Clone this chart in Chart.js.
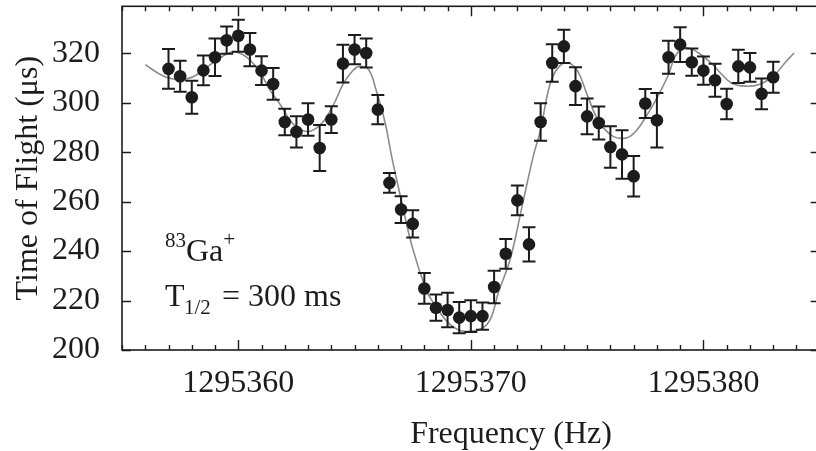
<!DOCTYPE html>
<html>
<head>
<meta charset="utf-8">
<script src="https://cdn.jsdelivr.net/npm/chart.js@4.4.1/dist/chart.umd.min.js"></script>
<style>
  html, body { margin: 0; padding: 0; background: #fff; }
  body { width: 816px; height: 451px; overflow: hidden; position: relative; }
  #tof { position: absolute; left: 0; top: 0; }
</style>
</head>
<body>
<canvas id="tof" width="826" height="451"></canvas>
<script>
// measured points (Hz, µs)
var freq = [1295357.0, 1295357.5, 1295358.0, 1295358.5, 1295359.0, 1295359.5, 1295360.0, 1295360.5,
            1295361.0, 1295361.5, 1295362.0, 1295362.5, 1295363.0, 1295363.5, 1295364.0, 1295364.5,
            1295365.0, 1295365.5, 1295366.0, 1295366.5, 1295367.0, 1295367.5, 1295368.0, 1295368.5,
            1295369.0, 1295369.5, 1295370.0, 1295370.5, 1295371.0, 1295371.5, 1295372.0, 1295372.5,
            1295373.0, 1295373.5, 1295374.0, 1295374.5, 1295375.0, 1295375.5, 1295376.0, 1295376.5,
            1295377.0, 1295377.5, 1295378.0, 1295378.5, 1295379.0, 1295379.5, 1295380.0, 1295380.5,
            1295381.0, 1295381.5, 1295382.0, 1295382.5, 1295383.0];
var tof = [313.7, 310.7, 302.2, 313.1, 318.4, 325.3, 327.1, 321.5,
           313.0, 307.6, 292.2, 288.2, 293.2, 281.7, 293.2, 315.8,
           321.5, 320.1, 297.2, 267.6, 256.8, 251.0, 224.9, 217.1,
           216.2, 213.1, 213.7, 213.7, 225.5, 238.9, 260.5, 242.7,
           292.2, 316.1, 322.8, 306.7, 294.5, 291.8, 282.1, 279.1,
           270.3, 299.7, 292.9, 318.4, 323.5, 316.4, 313.0, 309.1,
           299.5, 314.7, 314.3, 303.6, 310.3];
var tofErr = [8.0, 6.3, 6.7, 6.0, 7.6, 5.5, 6.5, 6.7,
              5.8, 6.4, 5.4, 6.3, 6.6, 9.3, 5.4, 7.6,
              5.9, 5.9, 5.9, 4.0, 5.4, 5.5, 6.2, 5.3,
              7.0, 6.3, 6.4, 5.5, 6.6, 6.0, 6.0, 6.9,
              7.6, 7.6, 6.7, 7.6, 7.2, 6.7, 8.4, 9.8,
              8.2, 5.9, 11.0, 6.7, 7.0, 5.5, 5.7, 6.7,
              6.2, 6.7, 5.8, 6.2, 6.3];

// fitted line
var fitFreq = [1295356.0, 1295356.8, 1295357.5, 1295358.1, 1295358.9, 1295359.5, 1295359.9, 1295360.4,
               1295360.9, 1295361.4, 1295361.8, 1295362.3, 1295362.7, 1295363.1, 1295363.6, 1295364.1,
               1295364.5, 1295364.9, 1295365.2, 1295365.6, 1295365.9, 1295366.3, 1295366.6, 1295367.0,
               1295367.5, 1295368.1, 1295368.4, 1295369.1, 1295369.8, 1295370.7, 1295371.2, 1295371.7,
               1295372.2, 1295372.7, 1295373.0, 1295373.4, 1295373.8, 1295374.2, 1295374.6, 1295375.0,
               1295375.5, 1295376.1, 1295376.7, 1295377.1, 1295377.5, 1295378.0, 1295378.5, 1295378.8,
               1295379.2, 1295379.8, 1295380.4, 1295380.8, 1295381.2, 1295381.8, 1295382.4, 1295383.0,
               1295383.5, 1295383.9];
var fitTof = [315.4, 310.7, 309.4, 310.7, 316.1, 319.7, 320.5, 318.1,
              312.7, 304.6, 299.3, 292.0, 289.0, 288.5, 291.8, 299.3,
              307.4, 312.7, 314.7, 313.4, 306.0, 292.5, 278.0, 261.0,
              241.0, 223.8, 219.0, 210.4, 207.5, 210.4, 223.8, 237.0,
              258.0, 279.0, 289.0, 307.4, 314.7, 316.1, 312.7, 303.3,
              292.5, 286.5, 285.8, 288.5, 293.9, 301.9, 311.4, 319.0,
              322.2, 320.1, 315.4, 311.4, 308.0, 306.7, 307.4, 310.7,
              316.1, 320.1];

var yTicks = [200, 220, 240, 260, 280, 300, 320];
var xMajor = [1295360, 1295370, 1295380];

var SERIF = '"Liberation Serif", "Times New Roman", serif';
var INK = '#1c1c1c';

function pairs(xs, ys) {
    return xs.map(function (x, i) { return { x: x, y: ys[i] }; });
}

// error bars on top of the markers
var errorBars = {
    id: 'errorBars',
    afterDatasetsDraw: function (chart) {
        var ctx = chart.ctx;
        var xs = chart.scales.x, ys = chart.scales.y;
        ctx.save();
        ctx.strokeStyle = INK;
        ctx.lineWidth = 2;
        for (var i = 0; i < freq.length; i++) {
            var px = xs.getPixelForValue(freq[i]);
            var top = ys.getPixelForValue(tof[i] + tofErr[i]);
            var bot = ys.getPixelForValue(tof[i] - tofErr[i]);
            ctx.beginPath();
            ctx.moveTo(px, top); ctx.lineTo(px, bot);
            ctx.moveTo(px - 6.5, top); ctx.lineTo(px + 6.5, top);
            ctx.moveTo(px - 6.5, bot); ctx.lineTo(px + 6.5, bot);
            ctx.stroke();
        }
        ctx.restore();
    }
};

// box frame with inward ticks (gnuplot style)
var frame = {
    id: 'frame',
    afterDraw: function (chart) {
        var ctx = chart.ctx, a = chart.chartArea;
        var xs = chart.scales.x, ys = chart.scales.y;
        ctx.save();
        ctx.strokeStyle = INK;
        ctx.lineWidth = 1.6;
        ctx.strokeRect(a.left, a.top, a.right - a.left, a.bottom - a.top);
        ctx.lineWidth = 1.4;
        ctx.beginPath();
        for (var f = xs.min; f <= xs.max; f++) {
            var px = Math.round(xs.getPixelForValue(f)) + 0.5;
            var len = xMajor.indexOf(f) >= 0 ? 10 : 5;
            ctx.moveTo(px, a.bottom); ctx.lineTo(px, a.bottom - len);
            ctx.moveTo(px, a.top); ctx.lineTo(px, a.top + len);
        }
        yTicks.forEach(function (v) {
            var py = Math.round(ys.getPixelForValue(v)) + 0.5;
            ctx.moveTo(a.left, py); ctx.lineTo(a.left + 9, py);
            ctx.moveTo(a.right, py); ctx.lineTo(a.right - 9, py);
        });
        ctx.stroke();

        ctx.fillStyle = INK;
        // x axis title, sits a little right of centre in the original
        ctx.font = '32px ' + SERIF;
        ctx.textAlign = 'center';
        ctx.textBaseline = 'middle';
        ctx.fillText('Frequency (Hz)', 511, 435);

        // labels inside the plot
        ctx.textBaseline = 'alphabetic';
        ctx.textAlign = 'left';
        ctx.font = '21px ' + SERIF;
        ctx.fillText('83', 165, 247);
        ctx.font = '32px ' + SERIF;
        ctx.fillText('Ga', 186, 261);
        var gaW = ctx.measureText('Ga').width;
        ctx.font = '21px ' + SERIF;
        ctx.fillText('+', 186 + gaW, 246);

        ctx.font = '32px ' + SERIF;
        ctx.fillText('T', 165, 306);
        ctx.font = '21px ' + SERIF;
        ctx.fillText('1/2', 184, 314);
        ctx.font = '32px ' + SERIF;
        ctx.fillText(' = 300 ms', 214, 306);
        ctx.restore();
    }
};

new Chart(document.getElementById('tof'), {
    type: 'scatter',
    data: {
        datasets: [
            {
                type: 'line',
                label: 'fit',
                data: pairs(fitFreq, fitTof),
                borderColor: '#8c8c8c',
                borderWidth: 1.6,
                pointRadius: 0,
                tension: 0.4,
                fill: false,
                order: 2
            },
            {
                label: '83Ga+',
                data: pairs(freq, tof),
                backgroundColor: INK,
                borderWidth: 0,
                pointRadius: 6.3,
                order: 1
            }
        ]
    },
    options: {
        responsive: false,
        animation: false,
        events: [],
        layout: { padding: { left: 0, top: 5, right: 6, bottom: 0 } },
        plugins: {
            legend: { display: false },
            tooltip: { enabled: false }
        },
        scales: {
            x: {
                type: 'linear',
                min: 1295355,
                max: 1295385,
                border: { display: false },
                grid: { display: false, drawTicks: false },
                afterBuildTicks: function (s) {
                    s.ticks = xMajor.map(function (v) { return { value: v }; });
                },
                ticks: {
                    autoSkip: false,
                    padding: 14,
                    color: INK,
                    font: { family: SERIF, size: 32 },
                    maxRotation: 0,
                    callback: function (v) { return String(v); }
                },
                title: { display: false },
                afterFit: function (s) {
                    s.height = 101;
                    s.paddingLeft = 0;
                    s.paddingRight = 0;
                }
            },
            y: {
                min: 200,
                max: 339,
                border: { display: false },
                grid: { display: false, drawTicks: false },
                ticks: {
                    stepSize: 20,
                    includeBounds: false,
                    padding: 22,
                    color: INK,
                    font: { family: SERIF, size: 32 }
                },
                title: {
                    display: true,
                    text: 'Time of Flight (μs)',
                    color: INK,
                    font: { family: SERIF, size: 32, lineHeight: 1 },
                    padding: { top: 13, bottom: 0 }
                },
                afterFit: function (s) {
                    s.width = 122;
                    s.paddingTop = 0;
                    s.paddingBottom = 0;
                }
            }
        }
    },
    plugins: [errorBars, frame]
});
</script>
</body>
</html>
